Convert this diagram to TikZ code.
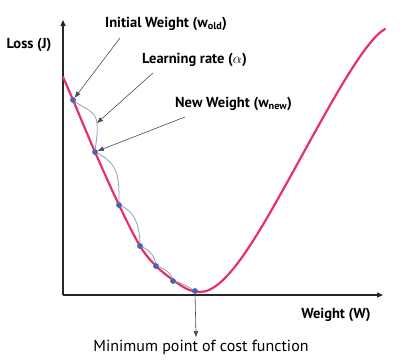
\documentclass[tikz,border=0pt]{standalone}
\usepackage{fontspec}
\setmainfont{PT Sans}
\usetikzlibrary{arrows.meta}
\definecolor{kurve}{RGB}{232,48,105}
\definecolor{punkt}{RGB}{78,98,178}
\definecolor{schritt}{RGB}{140,160,192}
\tikzstyle{axis} = [-{Triangle[length=6pt,width=5pt]},line width=1.2pt,draw=black!85]
\tikzstyle{cost} = [line width=2.2pt,draw=kurve,line cap=round]
\tikzstyle{descent} = [line width=0.8pt,draw=schritt]
\tikzstyle{weightdot} = [circle,fill=punkt,inner sep=0pt,minimum size=5.5pt]
\tikzstyle{pointer} = [-{Triangle[length=6pt,width=4.5pt]},draw=black!70,line width=0.6pt]
\tikzstyle{note} = [font=\bfseries\fontsize{14.5}{16}\selectfont,inner sep=0pt]

\begin{document}
\begin{tikzpicture}[x=1pt,y=-1pt]
\useasboundingbox (0,0) rectangle (413,364);

% axes
\coordinate (O) at (63,295);
\coordinate (Ytop) at (63,20);
\coordinate (Xend) at (383,295);
\draw[axis] (O) -- (Ytop);
\draw[axis] (O) -- (Xend);
\node[note] (loss) at (29,45) {Loss (J)};
\node[note] (weight) at (336,315) {Weight (W)};

% cost function
\draw[cost] plot[smooth,tension=0.55] coordinates {(63,77) (73,100) (95,152) (119,205) (140,246) (156,266) (173,280) (188,289.5) (200,292)}
  .. controls (228,292) and (262,228) .. (305,150)
  .. controls (330,105) and (365,40) .. (385,29);

% steps of gradient descent
\node[weightdot] (d1) at (73,100) {};
\node[weightdot] (d2) at (95,152) {};
\node[weightdot] (d3) at (119,205) {};
\node[weightdot] (d4) at (140,246) {};
\node[weightdot] (d5) at (156,266) {};
\node[weightdot] (d6) at (173,281) {};
\node[weightdot] (d7) at (195,291) {};
\coordinate (lr) at (97,123);

\draw[descent] (d1.center) to[out=-40,in=95] (lr) to[out=-85,in=85] (d2.center);
\draw[descent] (d2.center) to[out=-25,in=90,looseness=1.2] (d3.center);
\draw[descent] (d3.center) to[out=-20,in=90] (d4.center);
\draw[descent] (d4.center) to[out=-20,in=95] (d5.center);
\draw[descent] (d5.center) to[out=-15,in=100] (d6.center);
\draw[descent] (d6.center) to[out=-10,in=150] (d7.center);
\foreach \d in {d1,d2,d3,d4,d5,d6,d7} \node[weightdot] at (\d) {};

% labels with pointers
\node[note,anchor=west] (old) at (105,24) {Initial Weight (w\textsubscript{old})};
\node[note,anchor=west] (rate) at (142,60) {Learning rate ($\alpha$)};
\node[note,anchor=west] (new) at (175,104) {New Weight (w\textsubscript{new})};
\coordinate (oldtail) at (120,38);
\coordinate (ratetail) at (153,73);
\coordinate (newtail) at (185,117);
\coordinate (minend) at (196,337);
\draw[pointer] (oldtail) -- (d1);
\draw[pointer] (ratetail) -- (lr);
\draw[pointer] (newtail) -- (d2);
\draw[pointer] (d7) -- (minend);
\node[font=\fontsize{16}{18}\selectfont,inner sep=0pt] (minimum) at (201,347) {Minimum point of cost function};
\end{tikzpicture}
\end{document}
